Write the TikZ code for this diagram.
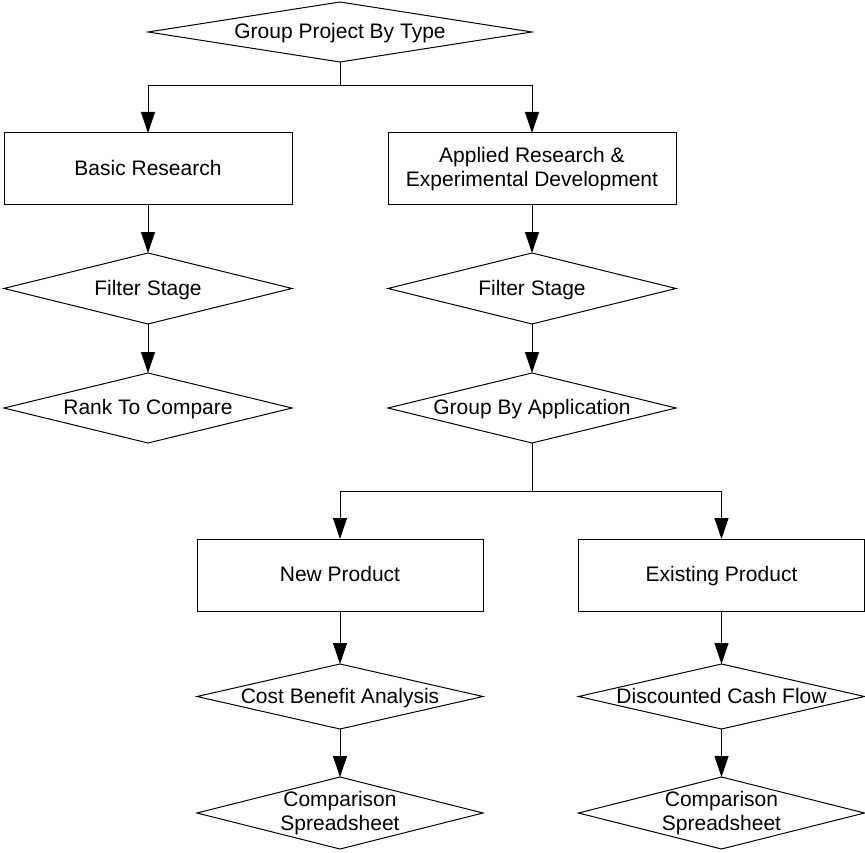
\documentclass[tikz,border=0pt]{standalone}
\usepackage{fontspec}
\setmainfont{Liberation Sans}
\usetikzlibrary{shapes.geometric,arrows.meta}
\begin{document}
\begin{tikzpicture}[x=1pt,y=1pt,
  every node/.style={font=\fontsize{21}{24.5}\selectfont},
  one/.style={text height=17.5pt, text depth=4.5pt},
  box/.style={draw, line width=1pt, rectangle, minimum width=288pt, minimum height=72pt, inner sep=0pt, outer sep=0pt, align=center},
  dia/.style={draw, line width=1pt, diamond, inner sep=0pt, outer sep=0pt, minimum width=288pt, minimum height=71pt},
  arr/.style={line width=1pt, -{Triangle[length=21pt,width=14pt]}},
  ln/.style={line width=1pt}]
\useasboundingbox (0,0) rectangle (865,-853);

\node[dia, minimum width=384pt, minimum height=60pt, label={[one]center:Group Project By Type}] (top) at (340,-32) {};
\node[box, one] (basic) at (148,-169) {Basic Research};
\node[box] (applied) at (532,-169) {Applied Research \&\\Experimental Development};
\node[dia, label={[one]center:Filter Stage}] (f1) at (148,-288.5) {};
\node[dia, label={[one]center:Filter Stage}] (f2) at (532,-288.5) {};
\node[dia, minimum height=70pt, label={[one]center:Rank To Compare}] (rank) at (148,-408) {};
\node[dia, minimum height=70pt, label={[one]center:Group By Application}] (gba) at (532,-408) {};
\node[box, one, minimum width=286pt] (newp) at (340,-575) {New Product};
\node[box, one, minimum width=286pt] (exist) at (721.5,-575) {Existing Product};
\node[dia, minimum width=286pt, minimum height=65pt, label={[one]center:Cost Benefit Analysis}] (cba) at (340,-696.5) {};
\node[dia, minimum width=286pt, minimum height=65pt, label={[one]center:Discounted Cash Flow}] (dcf) at (721.5,-696.5) {};
\node[dia, minimum width=286pt, minimum height=72pt, label={[align=center]center:Comparison\\Spreadsheet}] (cs1) at (340,-813) {};
\node[dia, minimum width=286pt, minimum height=72pt, label={[align=center]center:Comparison\\Spreadsheet}] (cs2) at (721.5,-813) {};

\coordinate (j1) at (340,-86);
\coordinate (j2) at (532,-491);

\draw[ln] (top.south) -- (j1);
\draw[arr] (j1) -| (basic.north);
\draw[arr] (j1) -| (applied.north);
\draw[arr] (basic) -- (f1);
\draw[arr] (f1) -- (rank);
\draw[arr] (applied) -- (f2);
\draw[arr] (f2) -- (gba);
\draw[ln] (gba.south) -- (j2);
\draw[arr] (j2) -| (newp.north);
\draw[arr] (j2) -| (exist.north);
\draw[arr] (newp) -- (cba);
\draw[arr] (cba) -- (cs1);
\draw[arr] (exist) -- (dcf);
\draw[arr] (dcf) -- (cs2);
\end{tikzpicture}
\end{document}
